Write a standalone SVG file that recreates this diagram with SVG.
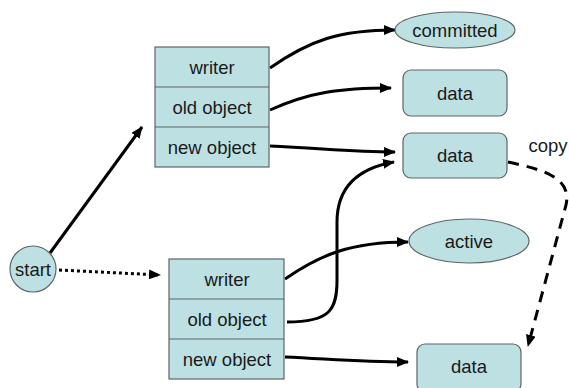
<svg xmlns="http://www.w3.org/2000/svg" width="569" height="388" viewBox="0 0 569 388">
  <style>
    .shape { fill: #bde0e3; stroke: #5e6466; stroke-width: 1.2; }
    .div { stroke: #5e6466; stroke-width: 1.2; }
    .lbl { font-family: "Liberation Sans", Arial, sans-serif; font-size: 18.5px; fill: #1a1a1a; text-anchor: middle; }
    .edge { fill: none; stroke: #000; stroke-width: 3; }
    .dotted { stroke-dasharray: 3 3; }
    .dashed { stroke-dasharray: 11 8; }
  </style>
  <defs>
    <marker id="arrow" viewBox="0 0 12 10" refX="11" refY="5" markerWidth="12" markerHeight="10" markerUnits="userSpaceOnUse" orient="auto">
      <path d="M0,0 L12,5 L0,10 Z" fill="#000"/>
    </marker>
  </defs>

  <rect width="569" height="388" fill="#fff"/>

  <!-- connectors -->
  <g id="connectors">
    <path class="edge" d="M50,253 L142,127" marker-end="url(#arrow)"/>
    <path class="edge dotted" d="M59,270 L160,275" marker-end="url(#arrow)"/>
    <path class="edge" d="M270,68 C310,40 340,30 395,30" marker-end="url(#arrow)"/>
    <path class="edge" d="M270,110 C310,92 340,88 391,88" marker-end="url(#arrow)"/>
    <path class="edge" d="M270,146 C320,148 350,152 395,152" marker-end="url(#arrow)"/>
    <path class="edge" d="M285,279 C320,255 350,242 408,242" marker-end="url(#arrow)"/>
    <path class="edge" d="M287,322 C330,322 337,310 337,280 L337,222 C337,185 360,168 394,162" marker-end="url(#arrow)"/>
    <path class="edge" d="M285,357 C330,359 360,362 408,362" marker-end="url(#arrow)"/>
    <path class="edge dashed" d="M508,162 C545,170 572,178 566,205 L528,346" marker-end="url(#arrow)"/>
    <text class="lbl" x="548" y="152">copy</text>
  </g>

  <!-- start -->
  <g id="start">
    <circle class="shape" cx="33" cy="269" r="23"/>
    <text class="lbl" x="33" y="276">start</text>
  </g>

  <!-- committed writer record -->
  <g id="record-top">
    <rect class="shape" x="155" y="47" width="114" height="120"/>
    <line class="div" x1="155" y1="87" x2="269" y2="87"/>
    <line class="div" x1="155" y1="127" x2="269" y2="127"/>
    <text class="lbl" x="212" y="74">writer</text>
    <text class="lbl" x="212" y="114">old object</text>
    <text class="lbl" x="212" y="154">new object</text>
  </g>

  <!-- active writer record -->
  <g id="record-bottom">
    <rect class="shape" x="169" y="259" width="115" height="120"/>
    <line class="div" x1="169" y1="299" x2="284" y2="299"/>
    <line class="div" x1="169" y1="339" x2="284" y2="339"/>
    <text class="lbl" x="227" y="286">writer</text>
    <text class="lbl" x="227" y="326">old object</text>
    <text class="lbl" x="227" y="366">new object</text>
  </g>

  <g id="committed">
    <ellipse class="shape" cx="455" cy="30" rx="60" ry="18"/>
    <text class="lbl" x="455" y="37">committed</text>
  </g>

  <g id="data-old">
    <rect class="shape" x="403" y="70" width="104" height="46" rx="8"/>
    <text class="lbl" x="455" y="100">data</text>
  </g>

  <g id="data-new">
    <rect class="shape" x="403" y="133" width="104" height="45" rx="8"/>
    <text class="lbl" x="455" y="162">data</text>
  </g>

  <g id="active">
    <ellipse class="shape" cx="469" cy="241" rx="60" ry="22"/>
    <text class="lbl" x="469" y="248">active</text>
  </g>

  <g id="data-copy">
    <rect class="shape" x="417" y="344" width="104" height="48" rx="8"/>
    <text class="lbl" x="469" y="373">data</text>
  </g>
</svg>
